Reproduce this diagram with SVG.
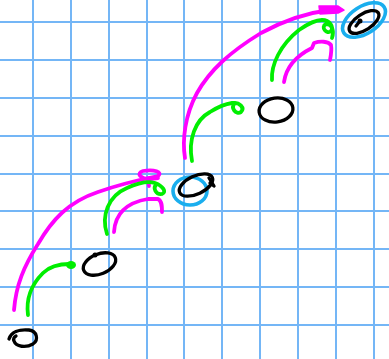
<svg xmlns="http://www.w3.org/2000/svg" width="389" height="359" viewBox="0 0 389 359">
<style>
.grid line{stroke:#74b6f6;stroke-width:2}
.blk{fill:none;stroke:#000;stroke-width:3.3;stroke-linecap:round;stroke-linejoin:round}
.blu{fill:none;stroke:#1aaeee;stroke-width:3.6}
.mag{fill:none;stroke:#ff00ff;stroke-width:3.8;stroke-linecap:round;stroke-linejoin:round}
.grn{fill:none;stroke:#00ee00;stroke-width:3.8;stroke-linecap:round;stroke-linejoin:round}
</style>
<rect width="389" height="359" fill="#fff"/>
<g class="grid">
<line x1="33" y1="0" x2="33" y2="359"/><line x1="71" y1="0" x2="71" y2="359"/><line x1="109" y1="0" x2="109" y2="359"/><line x1="147" y1="0" x2="147" y2="359"/><line x1="184" y1="0" x2="184" y2="359"/><line x1="222" y1="0" x2="222" y2="359"/><line x1="260" y1="0" x2="260" y2="359"/><line x1="298" y1="0" x2="298" y2="359"/><line x1="336" y1="0" x2="336" y2="359"/><line x1="374" y1="0" x2="374" y2="359"/>
<line x1="0" y1="22" x2="389" y2="22"/><line x1="0" y1="60" x2="389" y2="60"/><line x1="0" y1="98" x2="389" y2="98"/><line x1="0" y1="136" x2="389" y2="136"/><line x1="0" y1="174" x2="389" y2="174"/><line x1="0" y1="211" x2="389" y2="211"/><line x1="0" y1="249" x2="389" y2="249"/><line x1="0" y1="287" x2="389" y2="287"/><line x1="0" y1="325" x2="389" y2="325"/>
</g>
<g id="connectors">
<path class="mag" d="M14,310 C16,285 24,266 38,244 C52,220 68,202 98,192 C118,185 138,180 158,176 C163,172 154,169 143,171 C136,173 140,179 150,179 L158,178 M148,178 L149,186"/>
<path class="grn" d="M28,315 C26,300 31,285 43,273 C50,266 58,264 70,264"/>
<ellipse cx="71" cy="265" rx="5" ry="4" fill="#00ee00"/>
<path class="grn" d="M107,234 C101,216 108,196 127,188 C138,183 148,181 155,183 C163,186 167,192 162,194 C156,195 152,188 157,184"/>
<path class="mag" d="M114,232 C115,216 124,203 148,199 L158,199 C162,201 162,206 162,212"/>
<path class="mag" d="M185,158 C182,140 185,115 197,93 C210,70 230,52 261,33 C285,20 305,13 330,10"/>
<path d="M319,6 L338,6 L344,10 L338,13 L320,14 Z" fill="#ff00ff" stroke="#ff00ff" stroke-width="1.5" stroke-linejoin="round"/>
<path class="grn" d="M192,161 C188,140 195,120 210,112 C218,107 225,104 232,103 C240,102 245,108 241,112 C236,115 230,108 235,103"/>
<path class="grn" d="M272,80 C271,65 280,45 299,30 C309,23 316,20 322,20 C330,20 334,27 331,31 C327,35 320,27 326,24 C333,24 334,32 332,38"/>
<path class="mag" d="M284,82 C286,68 296,56 312,48 L314,43 C320,41 328,41 331,45 C332,50 331,55 330,60"/>
</g>
<g id="node1"><path class="blk" d="M9,339 C11,332 19,329 29,330 C37,331 39,340 33,344 C26,348 16,347 14,341 C13,339 14,337 16,336"/></g>
<g id="node2"><ellipse class="blk" cx="99.5" cy="264" rx="17" ry="10" transform="rotate(-22 99.5 264)"/><circle cx="95" cy="255" r="2.5" fill="#000"/></g>
<g id="node3"><ellipse class="blu" cx="190" cy="191" rx="17" ry="14"/><ellipse class="blk" cx="196" cy="185" rx="18" ry="9" transform="rotate(-25 196 185)"/><path class="blk" d="M209,178 L214,186 L210,183"/></g>
<g id="node4"><ellipse class="blk" cx="276" cy="110" rx="17" ry="12" transform="rotate(-8 276 110)"/></g>
<g id="node5"><ellipse class="blu" cx="364" cy="20" rx="24" ry="13.5" transform="rotate(-33 364 20)"/><ellipse class="blk" cx="364" cy="22" rx="17" ry="8" transform="rotate(-33 364 22)"/><circle cx="360" cy="21" r="2.5" fill="#000"/><path class="blk" d="M356,26 L360,21"/></g>
</svg>
